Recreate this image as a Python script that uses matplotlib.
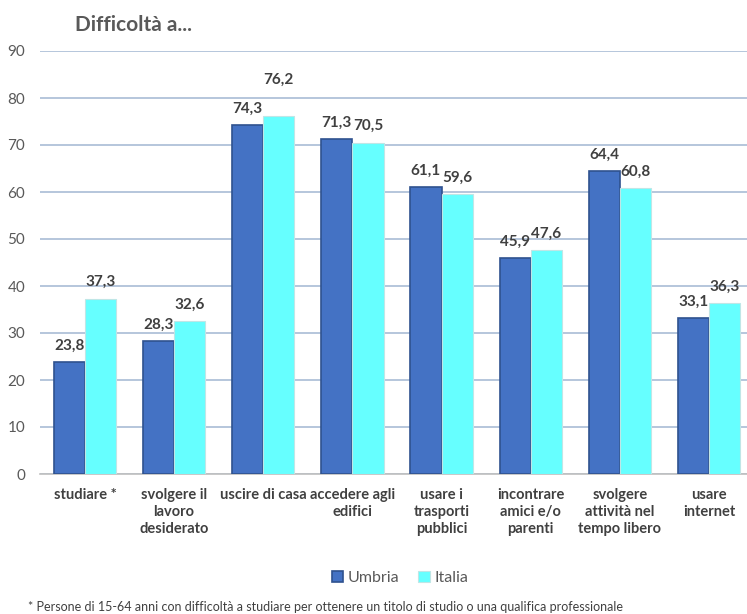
import matplotlib
matplotlib.use("Agg")
import matplotlib.pyplot as plt
import numpy as np

categories = ["studiare *", "svolgere il\nlavoro\ndesiderato", "uscire di casa", "accedere agli\nedifici",
              "usare i\ntrasporti\npubblici", "incontrare\namici e/o\nparenti", "svolgere\nattività nel\ntempo libero",
              "usare\ninternet"]
umbria = [23.8, 28.3, 74.3, 71.3, 61.1, 45.9, 64.4, 33.1]
italia = [37.3, 32.6, 76.2, 70.5, 59.6, 47.6, 60.8, 36.3]
yticks = [0, 10, 20, 30, 40, 50, 60, 70, 80, 90]

plt.rcParams['font.family'] = ['Lato', 'DejaVu Sans']

W, H = 747, 614
fig = plt.figure(figsize=(W/100, H/100), dpi=100)
x0, x1 = 40.4, 753.6
y0, y1 = 474, 51
ax = fig.add_axes([x0/W, 1 - y0/H, (x1-x0)/W, (y0-y1)/H])

x = np.arange(len(categories))
bw = 0.35
txtc = '#404040'
ax.bar(x - bw/2, umbria, bw, color='#4472c4', edgecolor='#2f528f', linewidth=1.2, label='Umbria', zorder=3)
ax.bar(x + bw/2, italia, bw, color='#66ffff', edgecolor='#bfe6e6', linewidth=0.8, label='Italia', zorder=3)

# label offsets (in data units) above bar tops
off_u = [2.0] * len(umbria)
off_i = [2.0] * len(italia)
off_i[2] = 6.2
for xi, v, o in zip(x - bw/2, umbria, off_u):
    ax.text(xi, v + o, f"{v:.1f}".replace('.', ','), ha='center', va='bottom', fontsize=11,
            fontweight='bold', color=txtc)
for xi, v, o in zip(x + bw/2, italia, off_i):
    ax.text(xi, v + o, f"{v:.1f}".replace('.', ','), ha='center', va='bottom', fontsize=11,
            fontweight='bold', color=txtc)

ax.set_ylim(0, 90)
ax.set_xlim(-0.5, len(categories) - 0.5)
ax.set_yticks(yticks)
ax.set_yticklabels([str(t) for t in yticks], fontsize=11, color='#595959')
ax.yaxis.grid(True, color='#a9bcd6', linewidth=1.2, zorder=0)
ax.set_axisbelow(True)
ax.set_xticks(x)
ax.set_xticklabels(categories, fontsize=10.5, fontweight='bold', color=txtc, va='top',
                   linespacing=1.3, multialignment='center')
ax.tick_params(axis='both', length=0)
ax.tick_params(axis='x', pad=10)
ax.tick_params(axis='y', pad=11)
for s in ['top', 'right', 'left']:
    ax.spines[s].set_visible(False)
ax.spines['bottom'].set_color('#bfbfbf')
ax.spines['bottom'].set_linewidth(1.2)

fig.text(75/W, 1 - 25/H, "Difficoltà a...", fontsize=15, fontweight='bold', color='#595959', va='center', ha='left')

leg = fig.legend(loc='center', bbox_to_anchor=(400/W, 1 - 578/H), ncol=2, frameon=False, fontsize=11.5,
                 handlelength=0.7, handleheight=0.7, handletextpad=0.3, columnspacing=1.2)
for t in leg.get_texts():
    t.set_color('#595959')

fig.text(28/W, 1 - 607/H, "* Persone di 15-64 anni con difficoltà a studiare per ottenere un titolo di studio o una qualifica professionale",
         fontsize=9, color='#404040', va='center', ha='left')

fig.savefig("out.png", dpi=100)
